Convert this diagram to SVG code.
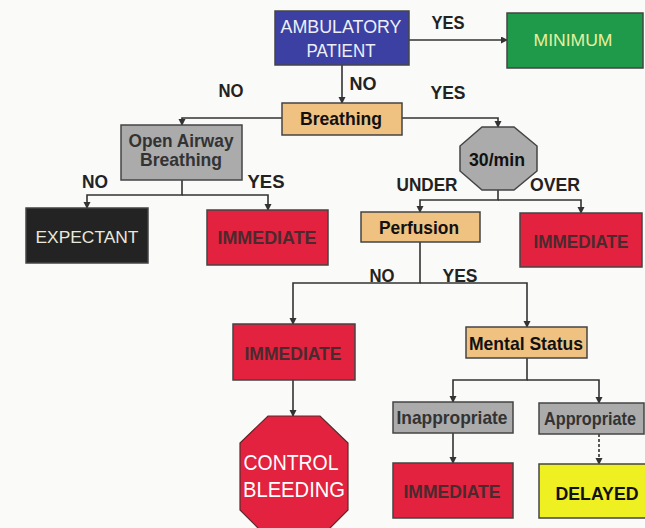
<svg xmlns="http://www.w3.org/2000/svg" width="645" height="528" viewBox="0 0 645 528">
<defs>
<marker id="arr" markerUnits="userSpaceOnUse" markerWidth="8" markerHeight="8" refX="6" refY="3.5" orient="auto">
<path d="M0,0 L7,3.5 L0,7 Z" fill="#333"/>
</marker>
<style>
.box{stroke:#444;stroke-width:1.5}
.blue{fill:#3c40a2}
.green{fill:#1f9a4a}
.tan{fill:#f0c282}
.gray{fill:#ababab}
.red{fill:#e2223e}
.dark{fill:#232323}
.yellow{fill:#eef022}
.t{font-family:"Liberation Sans",Arial,sans-serif;text-anchor:middle}
.b{font-weight:bold}
.lbl{font-family:"Liberation Sans",Arial,sans-serif;font-weight:bold;font-size:19px;fill:#222;text-anchor:middle}
.imm{font-weight:bold;font-size:18px;fill:#4a2a2e}
.gt{font-weight:bold;font-size:19px;fill:#333}
.bt{font-weight:bold;font-size:19px;fill:#111}
.wt{font-size:18px;fill:#eceff8}
.conn path{fill:none;stroke:#333;stroke-width:1.6}
</style>
</defs>
<rect width="645" height="528" fill="#fafaf8"/>

<g id="connectors" class="conn">
<path d="M409,40 H507" marker-end="url(#arr)"/>
<path d="M342,65 V103" marker-end="url(#arr)"/>
<path d="M282,118 H182 V125" marker-end="url(#arr)"/>
<path d="M402,118 H498 V127" marker-end="url(#arr)"/>
<path d="M182,180 V195 H87 V208" marker-end="url(#arr)"/>
<path d="M182,195 H268 V210" marker-end="url(#arr)"/>
<path d="M498,190 V200 H420 V212" marker-end="url(#arr)"/>
<path d="M498,200 H581 V213" marker-end="url(#arr)"/>
<path d="M420,242 V283 H293 V324" marker-end="url(#arr)"/>
<path d="M420,283 H527 V327" marker-end="url(#arr)"/>
<path d="M293,380 V416" marker-end="url(#arr)"/>
<path d="M527,358 V380 H453 V402" marker-end="url(#arr)"/>
<path d="M527,380 H599 V403" marker-end="url(#arr)"/>
<path d="M453,433 V463" marker-end="url(#arr)"/>
<path d="M599,434 V464" stroke-dasharray="3,2" marker-end="url(#arr)"/>
</g>

<g id="labels">
<text class="lbl" x="448" y="29" textLength="33" lengthAdjust="spacingAndGlyphs">YES</text>
<text class="lbl" x="363" y="90" textLength="27" lengthAdjust="spacingAndGlyphs">NO</text>
<text class="lbl" x="231" y="97" textLength="25" lengthAdjust="spacingAndGlyphs">NO</text>
<text class="lbl" x="448" y="99" textLength="35" lengthAdjust="spacingAndGlyphs">YES</text>
<text class="lbl" x="95" y="188" textLength="26" lengthAdjust="spacingAndGlyphs">NO</text>
<text class="lbl" x="266" y="188" textLength="37" lengthAdjust="spacingAndGlyphs">YES</text>
<text class="lbl" x="427" y="191" textLength="61" lengthAdjust="spacingAndGlyphs">UNDER</text>
<text class="lbl" x="555" y="191" textLength="50" lengthAdjust="spacingAndGlyphs">OVER</text>
<text class="lbl" x="382" y="282" textLength="25" lengthAdjust="spacingAndGlyphs">NO</text>
<text class="lbl" x="460" y="282" textLength="35" lengthAdjust="spacingAndGlyphs">YES</text>
</g>

<g id="ambulatory">
<rect class="box blue" x="275" y="11" width="134" height="54"/>
<text class="t wt" x="341" y="33" textLength="121" lengthAdjust="spacingAndGlyphs">AMBULATORY</text>
<text class="t wt" x="341" y="57" textLength="69" lengthAdjust="spacingAndGlyphs">PATIENT</text>
</g>

<g id="minimum">
<rect class="box green" x="507" y="13" width="136" height="55"/>
<text class="t" x="573" y="46" font-size="16" fill="#e6f0a0" textLength="79" lengthAdjust="spacingAndGlyphs">MINIMUM</text>
</g>

<g id="breathing">
<rect class="box tan" x="282" y="103" width="120" height="32"/>
<text class="t bt" x="341" y="125" textLength="82" lengthAdjust="spacingAndGlyphs">Breathing</text>
</g>

<g id="open-airway">
<rect class="box gray" x="121" y="125" width="121" height="55"/>
<text class="t gt" x="181" y="147" textLength="105" lengthAdjust="spacingAndGlyphs">Open Airway</text>
<text class="t gt" x="181" y="166" textLength="82" lengthAdjust="spacingAndGlyphs">Breathing</text>
</g>

<g id="rate">
<polygon class="box gray" points="482,127 514,127 537,146 537,171 514,190 482,190 460,171 460,146"/>
<text class="t bt" x="497" y="166" fill="#222" textLength="56" lengthAdjust="spacingAndGlyphs">30/min</text>
</g>

<g id="expectant">
<rect class="box dark" x="26" y="208" width="122" height="55"/>
<text class="t" x="87" y="243" font-size="17" fill="#e8e8dc" textLength="103" lengthAdjust="spacingAndGlyphs">EXPECTANT</text>
</g>

<g id="immediate-1">
<rect class="box red" x="207" y="210" width="121" height="55"/>
<text class="t imm" x="267" y="244" textLength="99" lengthAdjust="spacingAndGlyphs">IMMEDIATE</text>
</g>

<g id="perfusion">
<rect class="box tan" x="361" y="212" width="119" height="30"/>
<text class="t bt" x="419" y="234" textLength="80" lengthAdjust="spacingAndGlyphs">Perfusion</text>
</g>

<g id="immediate-2">
<rect class="box red" x="520" y="213" width="122" height="54"/>
<text class="t imm" x="581" y="248" textLength="95" lengthAdjust="spacingAndGlyphs">IMMEDIATE</text>
</g>

<g id="immediate-3">
<rect class="box red" x="233" y="324" width="122" height="56"/>
<text class="t imm" x="293" y="360" textLength="97" lengthAdjust="spacingAndGlyphs">IMMEDIATE</text>
</g>

<g id="control-bleeding">
<polygon points="268,416 320,416 348,443 348,510 320,538 268,538 240,510 240,443" fill="#e2223e" stroke="#5a2a2a" stroke-width="1.2"/>
<text class="t" x="291" y="470" font-size="22" fill="#fff" textLength="95" lengthAdjust="spacingAndGlyphs">CONTROL</text>
<text class="t" x="294" y="497" font-size="22" fill="#fff" textLength="102" lengthAdjust="spacingAndGlyphs">BLEEDING</text>
</g>

<g id="mental-status">
<rect class="box tan" x="466" y="327" width="121" height="31"/>
<text class="t bt" x="526" y="350" textLength="114" lengthAdjust="spacingAndGlyphs">Mental Status</text>
</g>

<g id="inappropriate">
<rect class="box gray" x="393" y="402" width="120" height="31"/>
<text class="t gt" x="452" y="424" textLength="111" lengthAdjust="spacingAndGlyphs">Inappropriate</text>
</g>

<g id="appropriate">
<rect class="box gray" x="539" y="403" width="105" height="31"/>
<text class="t gt" x="590" y="425" font-size="17" textLength="92" lengthAdjust="spacingAndGlyphs">Appropriate</text>
</g>

<g id="immediate-4">
<rect class="box red" x="393" y="463" width="120" height="55"/>
<text class="t imm" x="452" y="498" textLength="97" lengthAdjust="spacingAndGlyphs">IMMEDIATE</text>
</g>

<g id="delayed">
<rect class="box yellow" x="539" y="464" width="107" height="54"/>
<text class="t bt" x="597" y="500" textLength="83" lengthAdjust="spacingAndGlyphs">DELAYED</text>
</g>
</svg>
